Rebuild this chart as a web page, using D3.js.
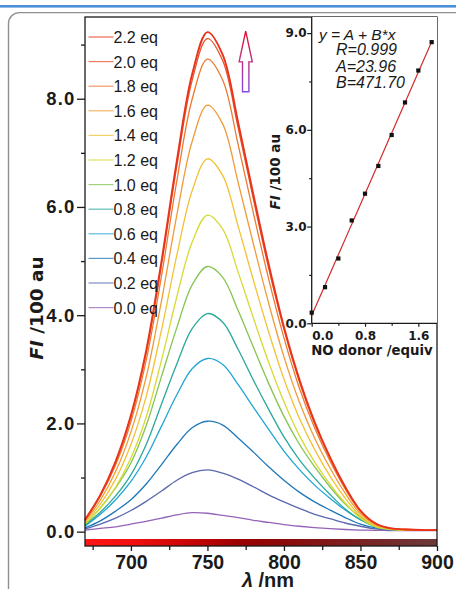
<!DOCTYPE html>
<html>
<head>
<meta charset="utf-8">
<script src="https://cdn.jsdelivr.net/npm/d3@7"></script>
<style>
  html, body { margin: 0; padding: 0; background: #fff; }
  svg { display: block; }
</style>
</head>
<body>
<svg id="chart" width="456" height="589"></svg>
<script>
// Emission spectra (FI in units of 100 au) recorded every 10 nm
const wavelengths = [670,680,690,700,710,720,730,740,750,760,770,780,790,800,810,820,830,840,850,860,870,880,890,900];

const fi_2_2 = [0.22,0.68,1.30,2.15,3.35,5.00,6.85,8.45,9.23,8.81,7.57,6.23,4.94,3.78,2.82,2.03,1.38,0.83,0.39,0.15,0.06,0.04,0.03,0.03];
const fi_2_0 = [0.22,0.67,1.28,2.12,3.31,4.94,6.76,8.34,9.11,8.70,7.47,6.15,4.87,3.74,2.78,2.00,1.37,0.82,0.38,0.15,0.06,0.04,0.03,0.03];
const fi_1_8 = [0.21,0.65,1.23,2.03,3.17,4.73,6.48,7.99,8.73,8.34,7.16,5.89,4.67,3.58,2.66,1.92,1.31,0.79,0.37,0.14,0.06,0.04,0.03,0.03];
const fi_1_6 = [0.19,0.58,1.11,1.84,2.86,4.27,5.85,7.21,7.88,7.53,6.46,5.32,4.22,3.23,2.40,1.73,1.18,0.71,0.33,0.13,0.05,0.04,0.03,0.03];
const fi_1_4 = [0.17,0.51,0.97,1.61,2.50,3.73,5.11,6.30,6.89,6.58,5.65,4.65,3.69,2.82,2.10,1.52,1.03,0.62,0.29,0.11,0.05,0.03,0.03,0.03];
const fi_1_2 = [0.15,0.43,0.82,1.36,2.12,3.17,4.34,5.35,5.85,5.59,4.80,3.95,3.13,2.40,1.78,1.29,0.88,0.53,0.25,0.09,0.04,0.03,0.03,0.03];
const fi_1_0 = [0.13,0.44,0.81,1.27,1.96,2.87,3.77,4.56,4.90,4.70,4.09,3.41,2.74,2.13,1.62,1.20,0.83,0.51,0.27,0.11,0.05,0.03,0.03,0.03];
const fi_0_8 = [0.12,0.36,0.66,1.05,1.61,2.36,3.10,3.75,4.03,3.87,3.37,2.80,2.26,1.75,1.33,0.99,0.69,0.42,0.22,0.09,0.04,0.03,0.03,0.03];
const fi_0_6 = [0.10,0.32,0.59,0.93,1.38,1.95,2.53,3.01,3.20,3.09,2.72,2.30,1.89,1.49,1.15,0.86,0.62,0.40,0.22,0.10,0.05,0.03,0.03,0.03];
const fi_0_4 = [0.07,0.20,0.38,0.59,0.88,1.24,1.61,1.92,2.04,1.97,1.73,1.47,1.20,0.95,0.73,0.55,0.40,0.26,0.14,0.07,0.04,0.03,0.03,0.03];
const fi_0_2 = [0.05,0.14,0.25,0.39,0.56,0.75,0.95,1.09,1.14,1.08,0.97,0.83,0.68,0.55,0.43,0.32,0.24,0.16,0.10,0.05,0.03,0.03,0.03,0.03];
const fi_0_0 = [0.03,0.06,0.09,0.14,0.19,0.25,0.31,0.35,0.34,0.30,0.26,0.21,0.17,0.13,0.10,0.075,0.055,0.04,0.03,0.025,0.02,0.02,0.02,0.02];

const equivLabels = ["2.2 eq","2.0 eq","1.8 eq","1.6 eq","1.4 eq","1.2 eq","1.0 eq","0.8 eq","0.6 eq","0.4 eq","0.2 eq","0.0 eq"];
const spectra = [fi_2_2, fi_2_0, fi_1_8, fi_1_6, fi_1_4, fi_1_2, fi_1_0, fi_0_8, fi_0_6, fi_0_4, fi_0_2, fi_0_0];
const seriesColors = ["#e8341d","#e8542b","#ec7a30","#f09b38","#f2c233","#d6da35","#84c450","#2aa89a","#22a5d5","#1f78b8","#5a68ad","#9463b8"];

// Axis ticks
const xTicks = [700, 750, 800, 850, 900];
const xMinorTicks = [675, 725, 775, 825, 875];
const yTicks = [0, 2, 4, 6, 8];
const yMinorTicks = [1, 3, 5, 7, 9];

// Excitation colour strip along the wavelength axis
const stripStops = [[670,"#ff1616"],[700,"#f31010"],[730,"#d20808"],[750,"#ba0404"],[770,"#9c0000"],[800,"#8b0b0b"],[850,"#7a2222"],[900,"#6c3a3a"]];

// Inset: peak intensity vs NO donor equivalents with linear fit
const donorEquiv = [0, 0.2, 0.4, 0.6, 0.8, 1.0, 1.2, 1.4, 1.6, 1.8];
const donorFI = [0.33, 1.12, 2.01, 3.19, 4.02, 4.88, 5.84, 6.85, 7.84, 8.72];
const fitA = 23.96, fitB = 471.70, fitR = 0.999;
const insetXTicks = [0, 0.8, 1.6];
const insetXMinor = [0.4, 1.2];
const insetYTicks = [0, 3, 6, 9];
const insetYMinor = [1.5, 4.5, 7.5];

const svg = d3.select("#chart");

// Page decoration: blue rule and rounded panel border
svg.append("rect").attr("x", 0).attr("y", 5).attr("width", 456).attr("height", 2.6).attr("fill", "#4b8fd9");
svg.append("rect").attr("x", 8.5).attr("y", 12.6).attr("width", 520).attr("height", 620)
  .attr("rx", 11).attr("fill", "none").attr("stroke", "#8f8f8f").attr("stroke-width", 1.4);

// Main plot scales
const x = d3.scaleLinear().domain([670, 900]).range([85, 437]);
const y = d3.scaleLinear().domain([-0.265, 9.51]).range([546, 17]);
const plotTop = y.range()[1], plotBottom = y.range()[0];
const plotLeft = x.range()[0], plotRight = x.range()[1];

const defs = svg.append("defs");
const grad = defs.append("linearGradient").attr("id", "strip")
  .attr("gradientUnits", "userSpaceOnUse")
  .attr("x1", x(670)).attr("x2", x(900)).attr("y1", 0).attr("y2", 0);
stripStops.forEach(s => grad.append("stop")
  .attr("offset", (s[0] - 670) / 230).attr("stop-color", s[1]));

const arrowGrad = defs.append("linearGradient").attr("id", "arrowGrad")
  .attr("x1", 0).attr("x2", 0).attr("y1", 0).attr("y2", 1);
arrowGrad.append("stop").attr("offset", 0).attr("stop-color", "#e2102e");
arrowGrad.append("stop").attr("offset", 0.45).attr("stop-color", "#c0307a");
arrowGrad.append("stop").attr("offset", 1).attr("stop-color", "#8a48e6");

// Colour strip at the bottom of the plot
svg.append("rect")
  .attr("x", plotLeft).attr("y", plotBottom - 7)
  .attr("width", plotRight - plotLeft).attr("height", 7)
  .attr("fill", "url(#strip)");

// Spectra
const line = d3.line()
  .x((d, i) => x(wavelengths[i]))
  .y(d => y(d))
  .curve(d3.curveCatmullRom.alpha(0.5));

const order = d3.range(spectra.length).reverse();
svg.append("g").selectAll("path")
  .data(order)
  .join("path")
  .attr("d", i => line(spectra[i]))
  .attr("fill", "none")
  .attr("stroke", i => seriesColors[i])
  .attr("stroke-width", i => i === 0 ? 1.9 : 1.3)
  .attr("stroke-linejoin", "round");

// Frame
svg.append("rect")
  .attr("x", plotLeft).attr("y", plotTop)
  .attr("width", plotRight - plotLeft).attr("height", plotBottom - plotTop)
  .attr("fill", "none").attr("stroke", "#1a1a1a").attr("stroke-width", 1.3);

// Y axis
const yAxis = svg.append("g").attr("transform", `translate(${plotLeft},0)`)
  .call(d3.axisLeft(y).tickValues(yTicks).tickSize(8).tickPadding(1.5).tickFormat(d3.format(".1f")));
yAxis.select(".domain").remove();
yAxis.selectAll("line").attr("stroke", "#1a1a1a").attr("stroke-width", 1.3);
yAxis.selectAll("text")
  .attr("font-family", "'Liberation Sans', Arial, sans-serif")
  .attr("font-weight", "bold").attr("font-size", 18.5)
  .attr("letter-spacing", 1.2).attr("fill", "#1a1a1a");
const yMinor = svg.append("g").attr("transform", `translate(${plotLeft},0)`)
  .call(d3.axisLeft(y).tickValues(yMinorTicks).tickSize(4).tickFormat(""));
yMinor.select(".domain").remove();
yMinor.selectAll("line").attr("stroke", "#1a1a1a").attr("stroke-width", 1.3);

// X axis (below the colour strip)
const xAxis = svg.append("g").attr("transform", `translate(0,${plotBottom})`)
  .call(d3.axisBottom(x).tickValues(xTicks).tickSize(5).tickPadding(4.5));
xAxis.select(".domain").remove();
xAxis.selectAll("line").attr("stroke", "#1a1a1a").attr("stroke-width", 1.3);
xAxis.selectAll("text")
  .attr("font-family", "'Liberation Sans', Arial, sans-serif")
  .attr("font-weight", "bold").attr("font-size", 19.5).attr("fill", "#1a1a1a");
const xMinor = svg.append("g").attr("transform", `translate(0,${plotBottom})`)
  .call(d3.axisBottom(x).tickValues(xMinorTicks).tickSize(4).tickFormat(""));
xMinor.select(".domain").remove();
xMinor.selectAll("line").attr("stroke", "#1a1a1a").attr("stroke-width", 1.3);

// Axis titles
const xTitle = svg.append("text")
  .attr("x", 268).attr("y", 586.5)
  .attr("text-anchor", "middle")
  .attr("font-family", "'Liberation Sans', Arial, sans-serif")
  .attr("font-weight", "bold").attr("font-size", 20).attr("fill", "#1a1a1a");
xTitle.append("tspan").attr("font-style", "italic").text("λ");
xTitle.append("tspan").text(" /nm");

const yTitle = svg.append("text")
  .attr("transform", "translate(43,308) rotate(-90)")
  .attr("text-anchor", "middle")
  .attr("font-family", "'DejaVu Sans', sans-serif")
  .attr("font-weight", "bold").attr("font-size", 18.5).attr("fill", "#1a1a1a");
yTitle.append("tspan").attr("font-style", "italic").text("FI");
yTitle.append("tspan").text(" /100 au");

// Legend
const legend = svg.append("g");
equivLabels.forEach((lab, i) => {
  const ly = 37 + i * 24.6;
  legend.append("line")
    .attr("x1", 88.5).attr("x2", 113.5).attr("y1", ly).attr("y2", ly)
    .attr("stroke", seriesColors[i]).attr("stroke-width", 1.2).attr("opacity", 0.75);
  legend.append("text")
    .attr("x", 113.5).attr("y", ly + 6)
    .attr("font-family", "'Liberation Sans', Arial, sans-serif")
    .attr("font-size", 16).attr("fill", "#1a1a1a")
    .text(lab);
});

// Upward arrow showing increasing intensity
const arrowX = 775, arrowTip = 9.25, arrowNeck = 8.68, arrowBase = 8.13;
const ax = x(arrowX);
const arrowPts = [
  [ax, y(arrowTip)], [ax + 6.6, y(arrowNeck)], [ax + 3.2, y(arrowNeck)],
  [ax + 3.2, y(arrowBase)], [ax - 3.2, y(arrowBase)], [ax - 3.2, y(arrowNeck)],
  [ax - 6.6, y(arrowNeck)]
];
svg.append("path")
  .attr("d", d3.line()(arrowPts) + "Z")
  .attr("fill", "#fff").attr("stroke", "url(#arrowGrad)").attr("stroke-width", 1.4)
  .attr("stroke-linejoin", "miter");

// ---------- Inset ----------
const ix = d3.scaleLinear().domain([0, 1.88]).range([311.7, 437]);
const iy = d3.scaleLinear().domain([0, 9.5]).range([323.3, 17]);

svg.append("rect")
  .attr("x", ix.range()[0]).attr("y", iy.range()[1])
  .attr("width", ix.range()[1] - ix.range()[0]).attr("height", iy.range()[0] - iy.range()[1])
  .attr("fill", "#fff");

// Linear fit y = A + B*x (A, B in au; plotted in 100 au)
const fitLine = d3.line().x(d => ix(d)).y(d => iy((fitA + fitB * d) / 100));
svg.append("path")
  .attr("d", fitLine([0, 1.8]))
  .attr("stroke", "#d22a2a").attr("stroke-width", 1.2).attr("fill", "none");

svg.append("g").selectAll("rect")
  .data(donorEquiv)
  .join("rect")
  .attr("x", (d) => ix(d) - 2.1)
  .attr("y", (d, i) => iy(donorFI[i]) - 2.1)
  .attr("width", 4.2).attr("height", 4.2)
  .attr("fill", "#111");

// Inset axes
svg.append("line")
  .attr("x1", ix.range()[0]).attr("x2", ix.range()[0])
  .attr("y1", iy.range()[1]).attr("y2", iy.range()[0])
  .attr("stroke", "#1a1a1a").attr("stroke-width", 1.3);
svg.append("line")
  .attr("x1", ix.range()[0]).attr("x2", ix.range()[1])
  .attr("y1", iy.range()[0]).attr("y2", iy.range()[0])
  .attr("stroke", "#1a1a1a").attr("stroke-width", 1.3);

const iyAxis = svg.append("g").attr("transform", `translate(${ix.range()[0]},0)`)
  .call(d3.axisLeft(iy).tickValues(insetYTicks).tickSize(4.5).tickPadding(0.5).tickFormat(d3.format(".1f")));
iyAxis.select(".domain").remove();
iyAxis.selectAll("line").attr("stroke", "#1a1a1a").attr("stroke-width", 1.2);
iyAxis.selectAll("text")
  .attr("font-family", "'DejaVu Sans', sans-serif")
  .attr("font-weight", "bold").attr("font-size", 12).attr("fill", "#1a1a1a");
const iyMinor = svg.append("g").attr("transform", `translate(${ix.range()[0]},0)`)
  .call(d3.axisLeft(iy).tickValues(insetYMinor).tickSize(2.5).tickFormat(""));
iyMinor.select(".domain").remove();
iyMinor.selectAll("line").attr("stroke", "#1a1a1a").attr("stroke-width", 1.2);

const ixAxis = svg.append("g").attr("transform", `translate(0,${iy.range()[0]})`)
  .call(d3.axisBottom(ix).tickValues(insetXTicks).tickSize(3.5).tickPadding(5).tickFormat(d3.format(".1f")));
ixAxis.select(".domain").remove();
ixAxis.selectAll("line").attr("stroke", "#1a1a1a").attr("stroke-width", 1.2);
ixAxis.selectAll("text")
  .attr("font-family", "'DejaVu Sans', sans-serif")
  .attr("font-weight", "bold").attr("font-size", 12).attr("fill", "#1a1a1a")
  .attr("text-anchor", d => d === 0 ? "start" : "middle");
const ixMinor = svg.append("g").attr("transform", `translate(0,${iy.range()[0]})`)
  .call(d3.axisBottom(ix).tickValues(insetXMinor).tickSize(2.5).tickFormat(""));
ixMinor.select(".domain").remove();
ixMinor.selectAll("line").attr("stroke", "#1a1a1a").attr("stroke-width", 1.2);

svg.append("text")
  .attr("x", 372).attr("y", 355)
  .attr("text-anchor", "middle")
  .attr("font-family", "'DejaVu Sans', sans-serif")
  .attr("font-weight", "bold").attr("font-size", 13.3).attr("fill", "#1a1a1a")
  .text("NO donor /equiv");

const iyTitle = svg.append("text")
  .attr("transform", "translate(280,171.7) rotate(-90)")
  .attr("text-anchor", "middle")
  .attr("font-family", "'DejaVu Sans', sans-serif")
  .attr("font-weight", "bold").attr("font-size", 13.5).attr("fill", "#1a1a1a");
iyTitle.append("tspan").attr("font-style", "italic").text("FI");
iyTitle.append("tspan").text(" /100 au");

// Fit statistics
const statFont = "'Liberation Sans', Arial, sans-serif";
const stats = [
  { t: "y = A + B*x", x: 319, y: 39.5, s: 15.5 },
  { t: "R=" + fitR.toFixed(3), x: 336, y: 55, s: 16 },
  { t: "A=" + fitA.toFixed(2), x: 336, y: 71.7, s: 16 },
  { t: "B=" + fitB.toFixed(2), x: 336, y: 88.3, s: 16 }
];
svg.append("g").selectAll("text")
  .data(stats)
  .join("text")
  .attr("x", d => d.x).attr("y", d => d.y)
  .attr("font-family", statFont).attr("font-style", "italic")
  .attr("font-size", d => d.s).attr("fill", "#1a1a1a")
  .text(d => d.t);
</script>
</body>
</html>
